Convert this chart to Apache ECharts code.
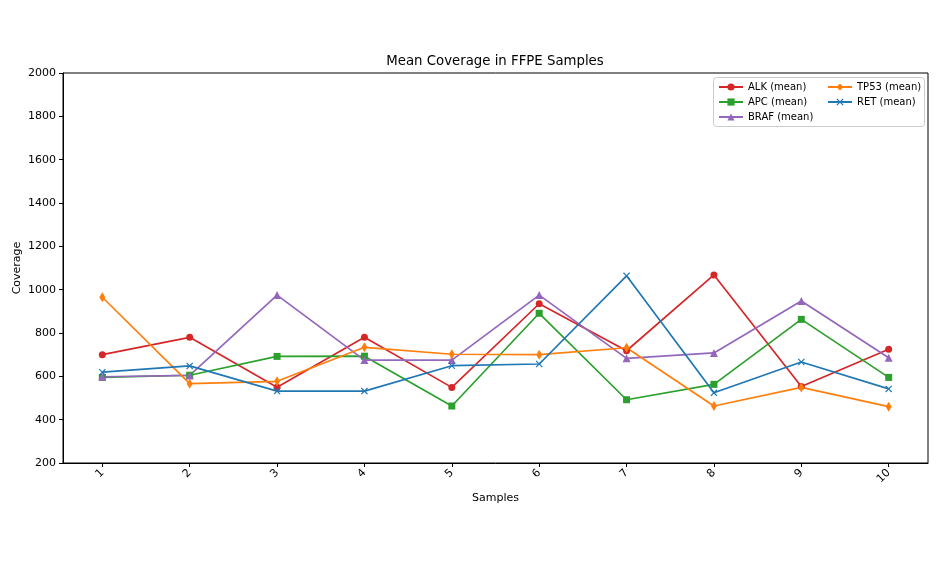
<!DOCTYPE html>
<html>
<head>
<meta charset="utf-8">
<script src="https://cdn.jsdelivr.net/npm/echarts@6/dist/echarts.min.js"></script>
<style>
html,body{margin:0;padding:0;background:#fff;}
#chart{width:936px;height:561px;}
</style>
</head>
<body>
<div id="chart"></div>
<script>
const samples = [1, 2, 3, 4, 5, 6, 7, 8, 9, 10];
const alk  = [700, 780, 550, 780, 549, 935, 718, 1068, 553, 725];
const apc  = [595, 605, 692, 693, 463, 891, 492, 563, 863, 595];
const braf = [598, 604, 975, 675, 675, 975, 683, 708, 948, 686];
const tp53 = [965, 566, 577, 734, 702, 700, 732, 463, 549, 460];
const ret  = [619, 648, 532, 532, 649, 657, 1064, 524, 666, 542];
const yTicks = [200, 400, 600, 800, 1000, 1200, 1400, 1600, 1800, 2000];

const font = 'DejaVu Sans';
const xPath = 'path://M0,1.2 L1.2,0 L5,3.8 L8.8,0 L10,1.2 L6.2,5 L10,8.8 L8.8,10 L5,6.2 L1.2,10 L0,8.8 L3.8,5 Z';

function mk(name, data, color, symbol, size) {
  return {
    name: name,
    type: 'line',
    data: samples.map((s, i) => [s, data[i]]),
    symbol: symbol,
    symbolSize: size,
    showAllSymbol: true,
    lineStyle: { color: color, width: 1.7 },
    itemStyle: { color: color },
    emphasis: { disabled: true },
    animation: false
  };
}

const chart = echarts.init(document.getElementById('chart'), null, { renderer: 'canvas' });
chart.setOption({
  backgroundColor: '#fff',
  animation: false,
  textStyle: { fontFamily: font },
  title: {
    text: 'Mean Coverage in FFPE Samples',
    left: 495, top: 55, textAlign: 'center', padding: 0,
    textStyle: { fontFamily: font, fontSize: 13.3, fontWeight: 'normal', color: '#000' }
  },
  grid: {
    left: 63, right: 8, top: 73, bottom: 98,
    containLabel: false, outerBoundsMode: 'none',
    show: true, borderColor: '#000', borderWidth: 1, backgroundColor: 'transparent'
  },
  legend: [
    {
      data: ['ALK (mean)', 'APC (mean)', 'BRAF (mean)'],
      orient: 'vertical', left: 718, top: 82, padding: 0,
      itemWidth: 24, itemHeight: 9, itemGap: 5,
      textStyle: { fontFamily: font, fontSize: 10, color: '#000' }
    },
    {
      data: ['TP53 (mean)', 'RET (mean)'],
      orient: 'vertical', left: 827, top: 82, padding: 0,
      itemWidth: 24, itemHeight: 9, itemGap: 5,
      textStyle: { fontFamily: font, fontSize: 10, color: '#000' }
    }
  ],
  graphic: [{
    type: 'rect', left: 713, top: 77, z: -1,
    shape: { width: 211, height: 49, r: 3 },
    style: { fill: 'rgba(255,255,255,0.8)', stroke: '#cccccc', lineWidth: 1 }
  }],
  xAxis: {
    type: 'value', min: 0.55, max: 10.45,
    name: 'Samples', nameLocation: 'middle', nameGap: 30, nameMoveOverlap: false,
    nameTextStyle: { fontFamily: font, fontSize: 11, color: '#000' },
    axisLine: { show: true, onZero: false, lineStyle: { color: '#000', width: 1 } },
    axisTick: { show: true, customValues: samples, length: 4, lineStyle: { color: '#000' } },
    axisLabel: { customValues: samples, rotate: 45, margin: 8, fontFamily: font, fontSize: 11, color: '#000' },
    splitLine: { show: false }
  },
  yAxis: {
    type: 'value', min: 200, max: 2000, interval: 200,
    name: 'Coverage', nameLocation: 'middle', nameGap: 40, nameMoveOverlap: false,
    nameTextStyle: { fontFamily: font, fontSize: 11, color: '#000' },
    axisLine: { show: true, lineStyle: { color: '#000', width: 1 } },
    axisTick: { show: true, length: 4, lineStyle: { color: '#000' } },
    axisLabel: { margin: 7, fontFamily: font, fontSize: 11, color: '#000', formatter: v => String(v) },
    splitLine: { show: false }
  },
  series: [
    mk('ALK (mean)', alk, '#d62728', 'circle', 7),
    mk('APC (mean)', apc, '#2ca02c', 'rect', 7),
    mk('BRAF (mean)', braf, '#9467bd', 'triangle', 8),
    mk('TP53 (mean)', tp53, '#ff7f0e', 'diamond', [6, 10]),
    mk('RET (mean)', ret, '#1f77b4', xPath, 7)
  ]
});
</script>
</body>
</html>
